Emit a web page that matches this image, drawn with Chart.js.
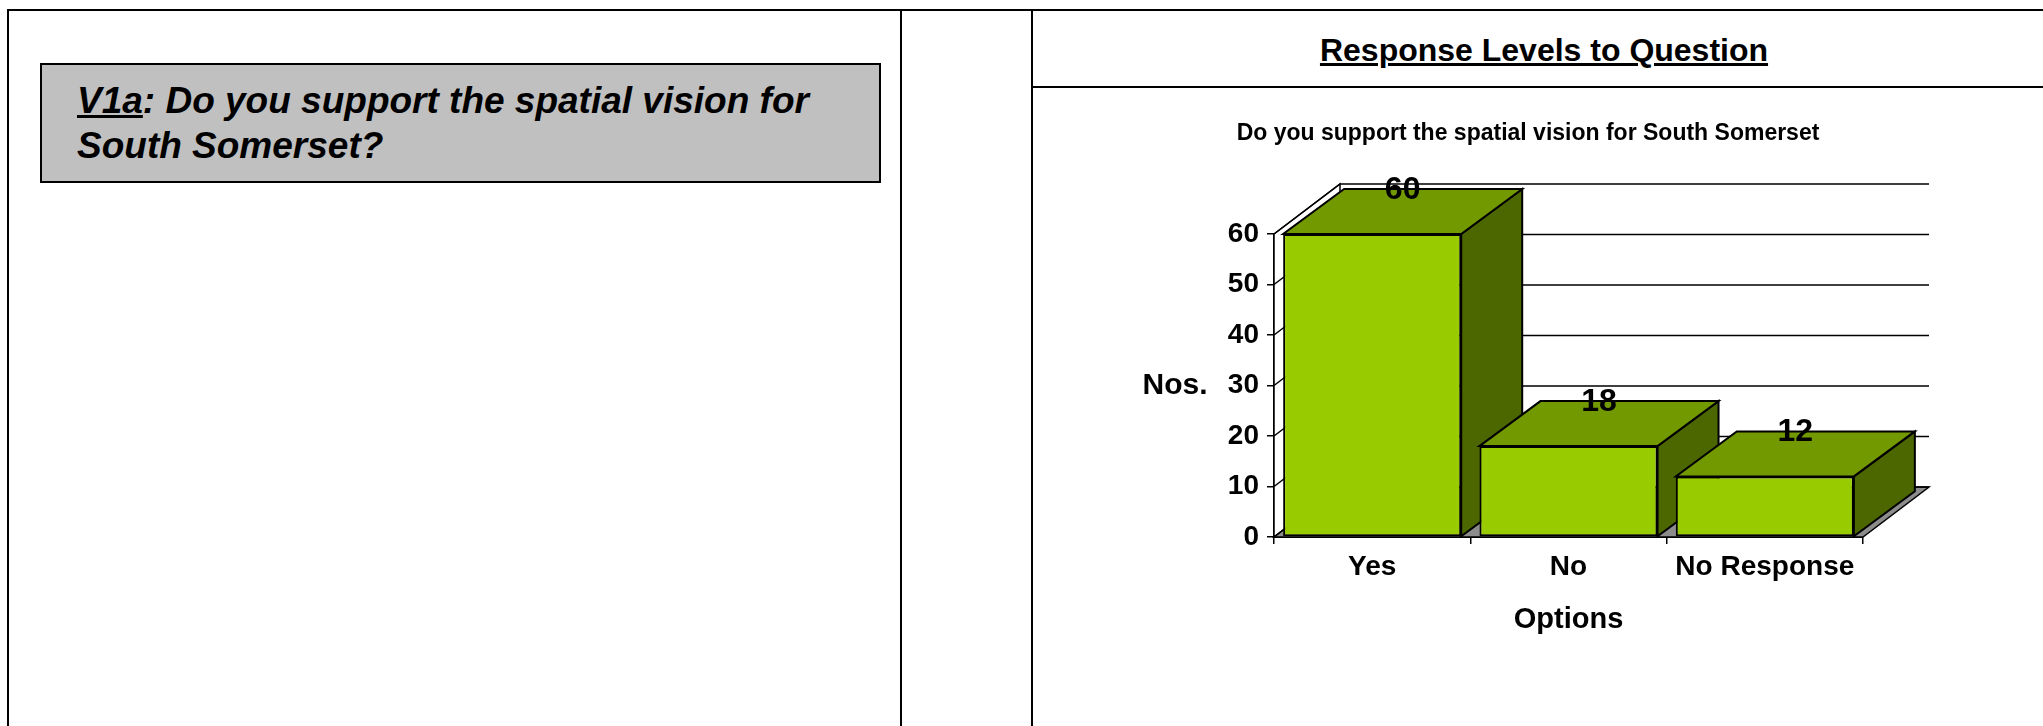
<!DOCTYPE html>
<html>
<head>
<meta charset="utf-8">
<title>Response Levels to Question</title>
<script src="https://cdn.jsdelivr.net/npm/chart.js@4.4.1/dist/chart.umd.min.js"></script>
<style>
  body { margin: 0; width: 2043px; height: 726px; position: relative; overflow: hidden; background: #fff;
         font-family: "Liberation Sans", Arial, sans-serif; color: #000; }
  .rule { position: absolute; background: #000; }
  #question { position: absolute; left: 40px; top: 63px; width: 841px; height: 120px; box-sizing: border-box;
              background: #c0c0c0; border: 2px solid #000; padding: 13px 0 0 35px;
              font-weight: bold; font-style: italic; font-size: 37px; line-height: 45px; }
  #panel-title { position: absolute; left: 1044px; top: 31px; width: 1000px; text-align: center;
                 font-weight: bold; font-size: 32px; line-height: 38px; text-decoration: underline; }
  #chart-box { position: absolute; left: 1034px; top: 89px; width: 929px; height: 637px; }
</style>
</head>
<body>
<div class="rule" style="left:7px;top:9px;width:2036px;height:2px"></div>
<div class="rule" style="left:7px;top:9px;width:2px;height:717px"></div>
<div class="rule" style="left:900px;top:9px;width:2px;height:717px"></div>
<div class="rule" style="left:1031px;top:9px;width:2px;height:717px"></div>
<div class="rule" style="left:1031px;top:86px;width:1012px;height:2px"></div>

<div id="question"><u>V1a</u>: Do you support the spatial vision for<br>South Somerset?</div>
<div id="panel-title">Response Levels to Question</div>

<div id="chart-box"><canvas id="responseChart"></canvas></div>

<script>
// data
const categories = ['Yes', 'No', 'No Response'];
const responses = [60, 18, 12];
const yTicks = [0, 10, 20, 30, 40, 50, 60];

const FRONT = '#99cc00';
const TOP = '#739900';
const SIDE = '#4c6600';
const FLOOR = '#8c8c8c';
const BAR_DEPTH = { dx: 61, dy: -45 };
const WALL_DEPTH = { dx: 66, dy: -50 };
const FONT = '"Liberation Sans", Arial, sans-serif';

function poly(ctx, pts, fill, stroke, width) {
    ctx.beginPath();
    ctx.moveTo(pts[0][0], pts[0][1]);
    for (let i = 1; i < pts.length; i++) ctx.lineTo(pts[i][0], pts[i][1]);
    ctx.closePath();
    if (fill) { ctx.fillStyle = fill; ctx.fill(); }
    if (stroke) { ctx.strokeStyle = stroke; ctx.lineWidth = width; ctx.stroke(); }
}

// walls, floor, gridlines and the top/side faces of the bars
const box3d = {
    id: 'box3d',
    beforeDatasetsDraw(chart) {
        const { ctx, chartArea } = chart;
        const y = chart.scales.y;
        const left = chartArea.left, right = chartArea.right;
        const y0 = y.getPixelForValue(yTicks[0]);
        const yTop = y.getPixelForValue(yTicks[yTicks.length - 1]);
        const wdx = WALL_DEPTH.dx, wdy = WALL_DEPTH.dy;
        ctx.save();
        poly(ctx, [[left, yTop], [left + wdx, yTop + wdy], [left + wdx, y0 + wdy], [left, y0]], '#fff', '#000', 1.5);
        poly(ctx, [[left, y0], [right, y0], [right + wdx, y0 + wdy], [left + wdx, y0 + wdy]], FLOOR, '#000', 1.5);
        ctx.strokeStyle = '#000';
        ctx.lineWidth = 1.5;
        yTicks.forEach(v => {
            const py = y.getPixelForValue(v);
            ctx.beginPath();
            ctx.moveTo(left, py);
            ctx.lineTo(left + wdx, py + wdy);
            ctx.lineTo(right + wdx, py + wdy);
            ctx.stroke();
        });
        const { dx, dy } = BAR_DEPTH;
        chart.getDatasetMeta(0).data.forEach(bar => {
            const p = bar.getProps(['x', 'y', 'base', 'width'], true);
            const l = p.x - p.width / 2, r = p.x + p.width / 2;
            poly(ctx, [[r, p.y], [r + dx, p.y + dy], [r + dx, p.base + dy], [r, p.base]], SIDE, '#000', 2);
            poly(ctx, [[l, p.y], [r, p.y], [r + dx, p.y + dy], [l + dx, p.y + dy]], TOP, '#000', 2);
        });
        ctx.restore();
    },
    afterDatasetsDraw(chart) {
        const { ctx } = chart;
        ctx.save();
        ctx.font = 'bold 32px ' + FONT;
        ctx.fillStyle = '#000';
        ctx.textAlign = 'center';
        ctx.textBaseline = 'middle';
        chart.getDatasetMeta(0).data.forEach((bar, i) => {
            const p = bar.getProps(['x', 'y'], true);
            ctx.fillText(String(responses[i]), p.x + BAR_DEPTH.dx / 2, p.y + BAR_DEPTH.dy + 1);
        });
        // horizontal y axis title
        ctx.font = 'bold 30px ' + FONT;
        const y = chart.scales.y;
        ctx.fillText('Nos.', chart.chartArea.left - 99, (y.top + y.bottom) / 2);
        ctx.restore();
    }
};

new Chart(document.getElementById('responseChart'), {
    type: 'bar',
    data: {
        labels: categories,
        datasets: [{
            data: responses,
            backgroundColor: FRONT,
            borderColor: '#000',
            borderWidth: 2,
            borderSkipped: false,
            categoryPercentage: 1,
            barPercentage: 0.907
        }]
    },
    options: {
        responsive: true,
        maintainAspectRatio: false,
        animation: false,
        layout: { padding: { left: 159, right: 100, top: 0, bottom: 0 } },
        plugins: {
            legend: { display: false },
            tooltip: { enabled: false },
            title: {
                display: true,
                text: 'Do you support the spatial vision for South Somerset',
                color: '#000',
                font: { family: FONT, size: 23, weight: 'bold' },
                padding: { top: 31, bottom: 86.4 }
            }
        },
        scales: {
            x: {
                afterFit(scale) { scale.height = 189; },
                grid: { offset: true, drawOnChartArea: false, tickLength: 7, color: '#000', lineWidth: 1.5 },
                border: { color: '#000', width: 2 },
                ticks: { color: '#000', padding: 6, font: { family: FONT, size: 28, weight: 'bold' } },
                title: {
                    display: true,
                    text: 'Options',
                    color: '#000',
                    font: { family: FONT, size: 29, weight: 'bold' },
                    padding: { top: 0, bottom: 89 }
                }
            },
            y: {
                min: yTicks[0],
                max: yTicks[yTicks.length - 1],
                afterFit(scale) { scale.width = 81; },
                grid: { drawOnChartArea: false, tickLength: 7, color: '#000', lineWidth: 1.5 },
                border: { color: '#000', width: 2 },
                ticks: {
                    stepSize: yTicks[1] - yTicks[0],
                    color: '#000',
                    padding: 8,
                    font: { family: FONT, size: 28, weight: 'bold' }
                }
            }
        }
    },
    plugins: [box3d]
});
</script>
</body>
</html>
